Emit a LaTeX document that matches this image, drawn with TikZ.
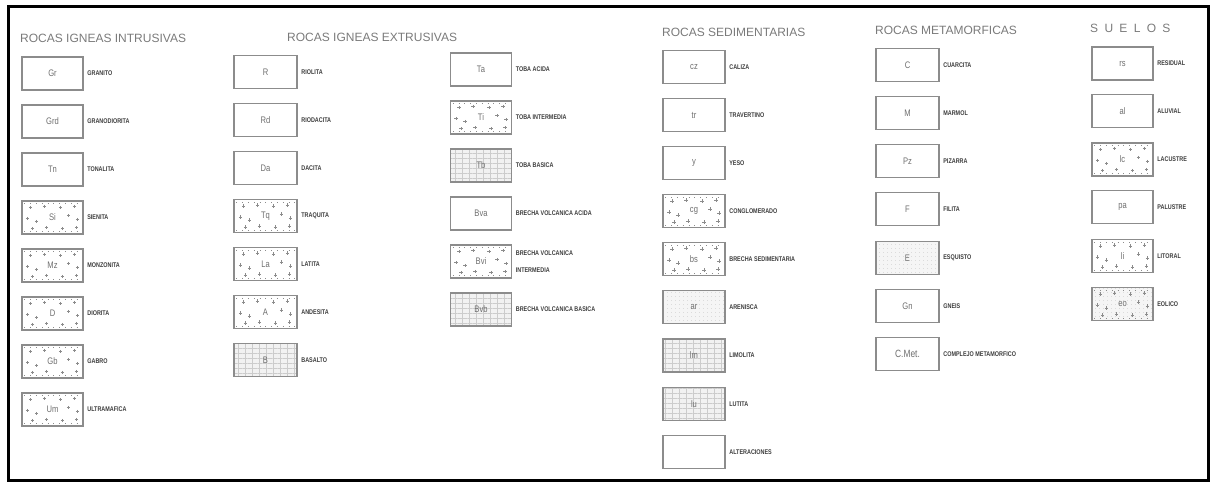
\documentclass[tikz,border=0pt]{standalone}
\usepackage{fontspec}
\newfontfamily\cadfont[FakeStretch=0.8]{Liberation Sans}
\newfontfamily\ttlfont{Liberation Sans}
\usetikzlibrary{patterns.meta}
\definecolor{boxgray}{HTML}{8C8C8C}
\definecolor{codegray}{HTML}{6E6E6E}
\definecolor{labgray}{HTML}{3C3C3C}
\definecolor{ttlgray}{HTML}{7A7A7A}
\newcommand\rkstip[1]{%
  \foreach \dx/\dy in {-22/-10,-8/-11,8/-10,22/-11,-25/1,-16/4,16/-2,25/2,-20/11,-6/10,10/11,24/10}
    \draw[boxgray,line width=0.5pt] ([shift={(\dx,\dy)}]#1.center) +(-1.6,0) -- +(1.6,0) +(0,-1.6) -- +(0,1.6);
  \draw[boxgray,line width=0.6pt,dash pattern=on 0.8pt off 5pt] ([shift={(3,3)}]#1.north west) -- ([shift={(-3,3)}]#1.north east);
  \draw[boxgray,line width=0.6pt,dash pattern=on 0.8pt off 5pt] ([shift={(3,-3)}]#1.south west) -- ([shift={(-3,-3)}]#1.south east);
}
\begin{document}
\begin{tikzpicture}[x=1pt,y=-1pt,
  rk/.style={draw=boxgray, line width=1.3pt, minimum width=61pt, minimum height=33pt,
    inner sep=0pt, font=\cadfont\fontsize{9.5}{9.5}\selectfont, text=codegray},
  lab/.style={anchor=west, inner sep=0pt, xshift=3.5pt, align=left,
    font=\cadfont\bfseries\fontsize{6.8}{16.5}\selectfont, text=labgray},
  ttl/.style={anchor=west, inner sep=0pt, font=\ttlfont\fontsize{12}{12}\selectfont, text=ttlgray},
  grd/.style={
    preaction={fill=gray!10},
    preaction={pattern={Lines[angle=0,distance=5pt,line width=0.3pt]}, pattern color=gray!40},
    preaction={pattern={Lines[angle=90,distance=7pt,line width=0.3pt]}, pattern color=gray!40}},
  dts/.style={
    preaction={fill=gray!8},
    preaction={pattern={Dots[radius=0.4pt,distance=4pt]}, pattern color=gray!55}}]
\useasboundingbox (0,0) rectangle (1216,483);
\node[draw=black, line width=3pt, minimum width=1200.5pt, minimum height=474pt, inner sep=0pt] (frame) at (608.25,243.5) {};

% titles
\node[ttl] (t1) at (20,38) {ROCAS IGNEAS INTRUSIVAS};
\node[ttl] (t2) at (287,37) {ROCAS IGNEAS EXTRUSIVAS};
\node[ttl] (t3) at (662,32) {ROCAS SEDIMENTARIAS};
\node[ttl] (t4) at (875,30) {ROCAS METAMORFICAS};
\node[ttl] (t5) at (1090,28) {S\hspace{6.3pt}U\hspace{6.3pt}E\hspace{6.3pt}L\hspace{6.3pt}O\hspace{6.3pt}S};

% intrusivas
\node[rk] (gr) at (52.5,73.5) {Gr};   \node[lab] (grl) at (gr.east) {GRANITO};
\node[rk] (grd) at (52.5,121.5) {Grd}; \node[lab] (grdl) at (grd.east) {GRANODIORITA};
\node[rk] (tn) at (52.5,169.5) {Tn};  \node[lab] (tnl) at (tn.east) {TONALITA};
\node[rk] (si) at (52.5,217.5) {Si};  \node[lab] (sil) at (si.east) {SIENITA}; \rkstip{si}
\node[rk] (mz) at (52.5,265.5) {Mz};  \node[lab] (mzl) at (mz.east) {MONZONITA}; \rkstip{mz}
\node[rk] (di) at (52.5,313.5) {D};   \node[lab] (dil) at (di.east) {DIORITA}; \rkstip{di}
\node[rk] (gb) at (52.5,361.5) {Gb};  \node[lab] (gbl) at (gb.east) {GABRO}; \rkstip{gb}
\node[rk] (um) at (52.5,409.5) {Um};  \node[lab] (uml) at (um.east) {ULTRAMAFICA}; \rkstip{um}

% extrusivas 1
\node[rk,minimum width=63pt] (ri) at (265.5,72) {R};  \node[lab] (ril) at (ri.east) {RIOLITA};
\node[rk,minimum width=63pt] (rd) at (265.5,120) {Rd}; \node[lab] (rdl) at (rd.east) {RIODACITA};
\node[rk,minimum width=63pt] (da) at (265.5,168) {Da}; \node[lab] (dal) at (da.east) {DACITA};
\node[rk,minimum width=63pt] (tq) at (265.5,216) {Tq}; \node[lab] (tql) at (tq.east) {TRAQUITA}; \rkstip{tq}
\node[rk,minimum width=63pt] (la) at (265.5,264) {La}; \node[lab] (lal) at (la.east) {LATITA}; \rkstip{la}
\node[rk,minimum width=63pt] (an) at (265.5,312) {A};  \node[lab] (anl) at (an.east) {ANDESITA}; \rkstip{an}
\node[rk,minimum width=63pt,grd] (ba) at (265.5,360) {B}; \node[lab] (bal) at (ba.east) {BASALTO};

% extrusivas 2
\node[rk] (ta) at (481,69.5) {Ta};   \node[lab] (tal) at (ta.east) {TOBA ACIDA};
\node[rk] (ti) at (481,117.5) {Ti};  \node[lab] (til) at (ti.east) {TOBA INTERMEDIA}; \rkstip{ti}
\node[rk,grd] (tb) at (481,165.5) {Tb}; \node[lab] (tbl) at (tb.east) {TOBA BASICA};
\node[rk] (bva) at (481,213.5) {Bva}; \node[lab] (bval) at (bva.east) {BRECHA VOLCANICA ACIDA};
\node[rk] (bvi) at (481,261.5) {Bvi}; \node[lab] (bvil) at (bvi.east) {BRECHA VOLCANICA\\INTERMEDIA}; \rkstip{bvi}
\node[rk,grd] (bvb) at (481,309.5) {Bvb}; \node[lab] (bvbl) at (bvb.east) {BRECHA VOLCANICA BASICA};

% sedimentarias
\node[rk,minimum width=62pt] (cz) at (694,67) {cz};  \node[lab] (czl) at (cz.east) {CALIZA};
\node[rk,minimum width=62pt] (tr) at (694,115) {tr}; \node[lab] (trl) at (tr.east) {TRAVERTINO};
\node[rk,minimum width=62pt] (ye) at (694,163) {y};  \node[lab] (yel) at (ye.east) {YESO};
\node[rk,minimum width=62pt] (cg) at (694,211) {cg}; \node[lab] (cgl) at (cg.east) {CONGLOMERADO}; \rkstip{cg}
\node[rk,minimum width=62pt] (bs) at (694,259) {bs}; \node[lab] (bsl) at (bs.east) {BRECHA SEDIMENTARIA}; \rkstip{bs}
\node[rk,minimum width=62pt,dts] (ar) at (694,307) {ar}; \node[lab] (arl) at (ar.east) {ARENISCA};
\node[rk,minimum width=62pt,grd] (lm) at (694,355.5) {lm}; \node[lab] (lml) at (lm.east) {LIMOLITA};
\node[rk,minimum width=62pt,grd] (lu) at (694,404) {lu}; \node[lab] (lul) at (lu.east) {LUTITA};
\node[rk,minimum width=62pt] (ag) at (694,452) {};   \node[lab] (agl) at (ag.east) {ALTERACIONES};

% metamorficas
\node[rk,minimum width=63pt] (cu) at (907.5,65) {C};   \node[lab] (cul) at (cu.east) {CUARCITA};
\node[rk,minimum width=63pt] (ma) at (907.5,113) {M};  \node[lab] (mal) at (ma.east) {MARMOL};
\node[rk,minimum width=63pt] (pz) at (907.5,161) {Pz}; \node[lab] (pzl) at (pz.east) {PIZARRA};
\node[rk,minimum width=63pt] (fi) at (907.5,209) {F};  \node[lab] (fil) at (fi.east) {FILITA};
\node[rk,minimum width=63pt,dts] (es) at (907.5,258) {E}; \node[lab] (esl) at (es.east) {ESQUISTO};
\node[rk,minimum width=63pt] (gn) at (907.5,306) {Gn}; \node[lab] (gnl) at (gn.east) {GNEIS};
\node[rk,minimum width=63pt,font=\cadfont\fontsize{10.5}{10.5}\selectfont] (cm) at (907.5,354) {C.Met.}; \node[lab] (cml) at (cm.east) {COMPLEJO METAMORFICO};

% suelos
\node[rk] (rs) at (1122.5,63.5) {rs}; \node[lab] (rsl) at (rs.east) {RESIDUAL};
\node[rk] (al) at (1122.5,111) {al};  \node[lab] (all) at (al.east) {ALUVIAL};
\node[rk] (lc) at (1122.5,159.5) {lc}; \node[lab] (lcl) at (lc.east) {LACUSTRE}; \rkstip{lc}
\node[rk] (pa) at (1122.5,207) {pa};  \node[lab] (pal) at (pa.east) {PALUSTRE};
\node[rk] (li) at (1122.5,256) {li};  \node[lab] (lil) at (li.east) {LITORAL}; \rkstip{li}
\node[rk,dts] (eo) at (1122.5,304) {eo}; \node[lab] (eol) at (eo.east) {EOLICO}; \rkstip{eo}
\end{tikzpicture}
\end{document}
